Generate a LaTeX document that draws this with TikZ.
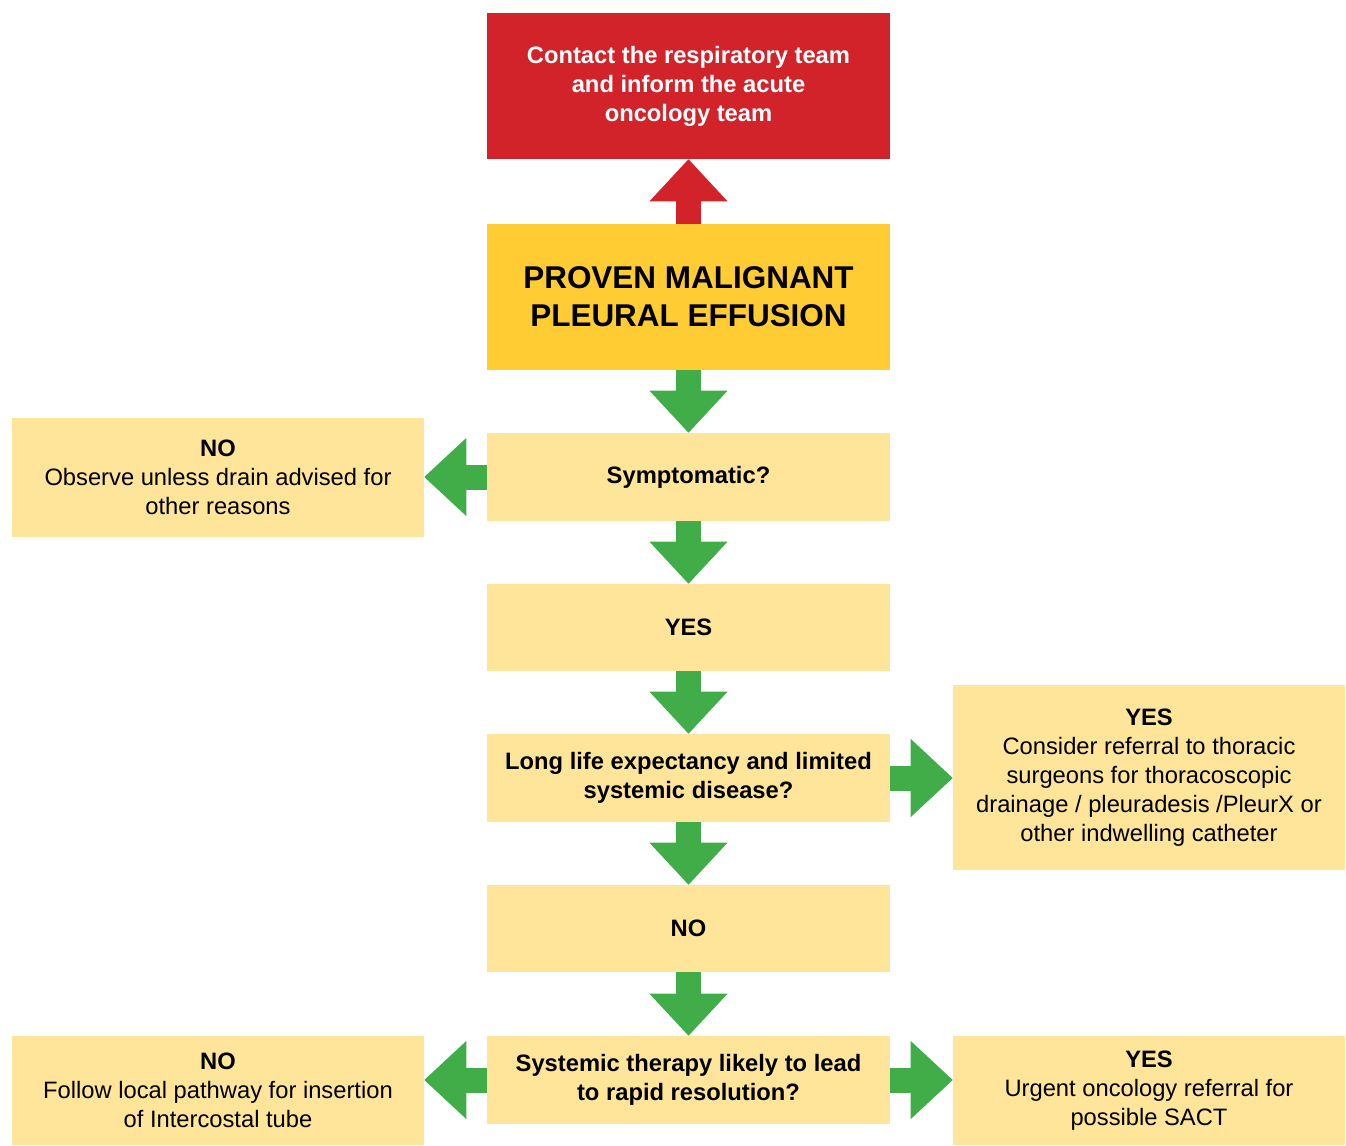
\documentclass[tikz,border=0pt]{standalone}
\usepackage{fontspec}
\setmainfont{Liberation Sans}
\usetikzlibrary{arrows.meta,positioning}

\definecolor{redbox}{HTML}{D2232A}
\definecolor{goldbox}{HTML}{FFCC33}
\definecolor{palebox}{HTML}{FEE599}
\definecolor{arrowgreen}{HTML}{41AD49}

\begin{document}
\begin{tikzpicture}[x=0.75pt,y=-0.75pt,
  box/.style={fill=palebox, align=center, inner sep=0pt,
    minimum width=302.25pt, minimum height=66pt,
    font=\fontsize{17.8}{21.7}\selectfont},
  sidebox/.style={box, minimum width=309pt},
  blockarrow/.style={line width=18.75pt,
    -{Triangle[width=58.5pt,length=31.5pt,line width=0pt]}},
  garrow/.style={blockarrow, arrowgreen},
  rarrow/.style={blockarrow, redbox}]
  \useasboundingbox (0,0) rectangle (1346,1146);

  % main column
  \node[box, fill=redbox, text=white, minimum height=109.5pt, font=\fontsize{17.8}{21.7}\selectfont\bfseries]
    (contact) at (688.5,86) {Contact the respiratory team\\and inform the acute\\oncology team};
  \node[box, fill=goldbox, minimum height=109.5pt, font=\fontsize{23.6}{28.5}\selectfont\bfseries]
    (pmpe) at (688.5,297) {PROVEN MALIGNANT\\PLEURAL EFFUSION};
  \node[box, font=\fontsize{17.8}{21.7}\selectfont\bfseries] (sympt) at (688.5,477) {Symptomatic?};
  \node[box, minimum height=65.25pt, font=\fontsize{17.8}{21.7}\selectfont\bfseries] (yesA) at (688.5,627.5) {YES};
  \node[box, font=\fontsize{17.8}{21.7}\selectfont\bfseries] (life) at (688.5,778)
    {Long life expectancy and limited\\systemic disease?};
  \node[box, minimum height=65.25pt, font=\fontsize{17.8}{21.7}\selectfont\bfseries] (noA) at (688.5,928.5) {NO};
  \node[box, font=\fontsize{17.8}{21.7}\selectfont\bfseries] (sact) at (688.5,1080)
    {Systemic therapy likely to lead\\to rapid resolution?};

  % side outcomes
  \node[sidebox, minimum height=89.25pt] (observe) at (218,477.5)
    {\textbf{NO}\\Observe unless drain advised for\\other reasons};
  \node[sidebox, minimum width=294pt, minimum height=138.75pt] (thoracic) at (1149,777.5)
    {\textbf{YES}\\Consider referral to thoracic\\surgeons for thoracoscopic\\drainage / pleuradesis /PleurX or\\other indwelling catheter};
  \node[sidebox, minimum height=81.75pt] (tube) at (218,1090.5)
    {\textbf{NO}\\Follow local pathway for insertion\\of Intercostal tube};
  \node[sidebox, minimum width=294pt, minimum height=81.75pt] (urgent) at (1149,1090.5)
    {\textbf{YES}\\Urgent oncology referral for\\possible SACT};

  % block arrows
  \draw[rarrow] (pmpe.north) -- (contact.south);
  \foreach \a/\b in {pmpe/sympt, sympt/yesA, yesA/life, life/noA, noA/sact}{
    \draw[garrow] (\a.south) -- (\b.north);
  }
  \draw[garrow] (sympt.west) -- (sympt.west -| observe.east);
  \draw[garrow] (life.east) -- (life.east -| thoracic.west);
  \draw[garrow] (sact.west) -- (sact.west -| tube.east);
  \draw[garrow] (sact.east) -- (sact.east -| urgent.west);
\end{tikzpicture}
\end{document}
